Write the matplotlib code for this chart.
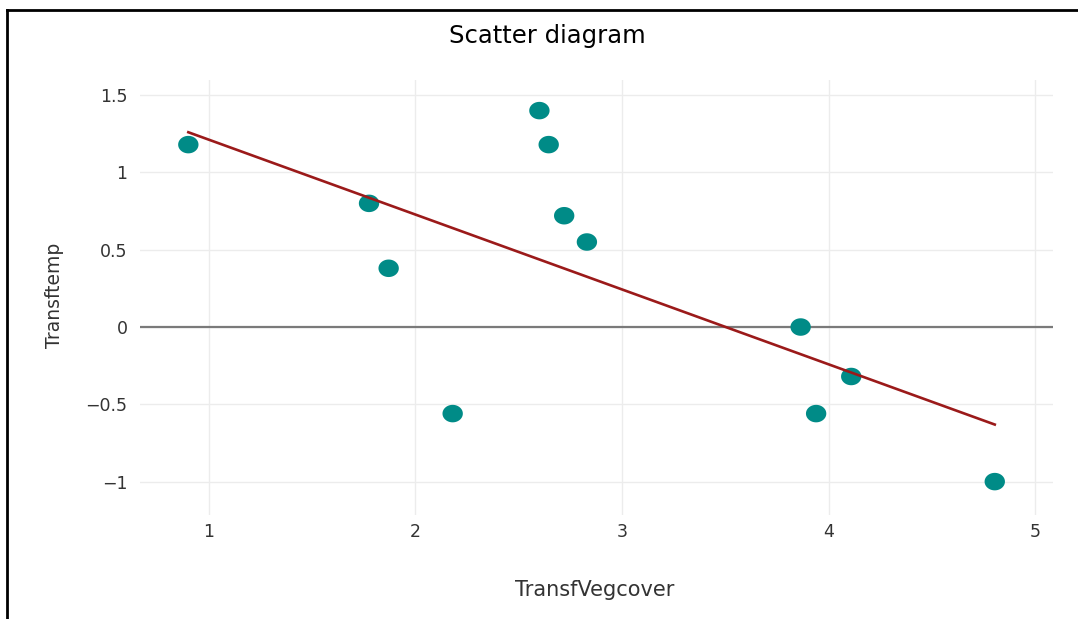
import numpy as np
import matplotlib.pyplot as plt
from matplotlib.lines import Line2D

plt.rcParams['font.family'] = ['DejaVu Sans']

# transformed vegetation cover vs transformed temperature
veg_cover = [0.90, 1.775, 1.87, 2.18, 2.60, 2.645, 2.72, 2.83, 3.865, 3.94, 4.11, 4.805]
temp = [1.18, 0.80, 0.38, -0.56, 1.40, 1.18, 0.72, 0.55, 0.00, -0.56, -0.32, -1.00]

x_ticks = [1, 2, 3, 4, 5]
y_ticks = [-1, -0.5, 0, 0.5, 1, 1.5]
y_tick_labels = ['\u22121', '\u22120.5', '0', '0.5', '1', '1.5']

fig = plt.figure(figsize=(10.78, 6.19), dpi=100)
ax = fig.add_axes([140 / 1078, 1 - 515 / 619, (1053 - 140) / 1078, (515 - 80) / 619])

# slightly wide ellipse for the markers
t = np.linspace(0, 2 * np.pi, 60)
ellipse = np.column_stack([np.cos(t), 0.86 * np.sin(t)])

ax.axhline(0, color='#7a7a7a', lw=1.6, zorder=1)
ax.scatter(veg_cover, temp, marker=ellipse, s=215, color='#008b87', edgecolors='none', zorder=3)

# least squares fit
slope, intercept = np.polyfit(veg_cover, temp, 1)
xs = np.array([min(veg_cover), max(veg_cover)])
ax.plot(xs, slope * xs + intercept, color='#9b1a1a', lw=1.9, zorder=4)

ax.set_xlim(0.666, 5.087)
ax.set_ylim(-1.216, 1.598)
ax.set_xticks(x_ticks)
ax.set_xticklabels([str(v) for v in x_ticks])
ax.set_yticks(y_ticks)
ax.set_yticklabels(y_tick_labels)
ax.grid(True, color='#ececec', lw=1)
ax.set_axisbelow(True)
for s in ax.spines.values():
    s.set_visible(False)
ax.tick_params(length=0, labelsize=12.5, labelcolor='#333333')
ax.tick_params(axis='y', pad=9)
ax.tick_params(axis='x', pad=6)

fig.text(547 / 1078, 1 - 36 / 619, 'Scatter diagram', ha='center', va='center', fontsize=17.5, color='black')
fig.text(595 / 1078, 1 - 590 / 619, 'TransfVegcover', ha='center', va='center', fontsize=15, color='#333333')
fig.text(55 / 1078, 1 - 295 / 619, 'Transftemp', ha='center', va='center', rotation=90, fontsize=13.5, color='#333333')

# frame on the top and left edges
fig.add_artist(Line2D([7 / 1078, 7 / 1078], [0, 1 - 10 / 619], transform=fig.transFigure, color='black', lw=2))
fig.add_artist(Line2D([7 / 1078, 1], [1 - 10 / 619, 1 - 10 / 619], transform=fig.transFigure, color='black', lw=2))

fig.savefig('out.png', dpi=100)
